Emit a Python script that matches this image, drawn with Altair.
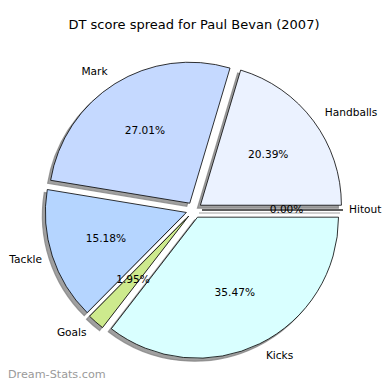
import altair as alt
import pandas as pd

labels = ["Hitout", "Handballs", "Mark", "Tackle", "Goals", "Kicks"]
values = [0.00, 20.39, 27.01, 15.18, 1.95, 35.47]
colors = ["#e0e8ff", "#ebf2ff", "#c5d9ff", "#b5d5ff", "#cdea8d", "#d9ffff"]

title_text = "DT score spread for Paul Bevan (2007)"
watermark = "Dream-Stats.com"

df = pd.DataFrame({"label": labels, "value": values, "idx": list(range(len(labels)))})

W = H = 374
CX, CY, R, D = 186, 202, 141, 8
SH = 3  # shadow offset
FS = 10.6

base = alt.Chart(df).transform_window(
    cum="sum(value)", sort=[alt.SortField("idx")], frame=[None, 0]
).transform_joinaggregate(
    total="sum(value)"
).transform_calculate(
    a2="2*PI*datum.cum/datum.total",
    a1="2*PI*(datum.cum-datum.value)/datum.total",
).transform_calculate(
    m="(datum.a1+datum.a2)/2",
    theta="2.5*PI-datum.a2",
    theta2="2.5*PI-datum.a1",
).transform_calculate(
    cx=f"{CX}+{D}*cos(datum.m)",
    cy=f"{CY}-{D}*sin(datum.m)",
    sx=f"{CX}+{D}*cos(datum.m)-{SH}",
    sy=f"{CY}-{D}*sin(datum.m)+{SH}",
    lx=f"clamp({CX}+({D}+1.1*{R})*cos(datum.m), 34, {W}-33)",
    ly=f"{CY}-({D}+1.1*{R})*sin(datum.m)",
    px=f"{CX}+({D}+0.6*{R})*cos(datum.m)",
    py=f"{CY}-({D}+0.6*{R})*sin(datum.m)",
    pct="format(datum.value/datum.total, '.2%')",
)

shadow = base.mark_arc(radius=R, fill="#808080", fillOpacity=0.75, stroke="#808080", strokeWidth=1.2, strokeOpacity=0.75).encode(
    x=alt.X("sx:Q", scale=None, axis=None),
    y=alt.Y("sy:Q", scale=None, axis=None),
    theta=alt.Theta("theta:Q", scale=None),
    theta2="theta2:Q",
)

pie = base.mark_arc(radius=R, stroke="black", strokeWidth=0.8).encode(
    x=alt.X("cx:Q", scale=None, axis=None),
    y=alt.Y("cy:Q", scale=None, axis=None),
    theta=alt.Theta("theta:Q", scale=None),
    theta2="theta2:Q",
    color=alt.Color("label:N", scale=alt.Scale(domain=labels, range=colors), legend=None),
)

txt_props = dict(font="DejaVu Sans", fontSize=FS, color="black", baseline="middle")

lab_left = base.transform_filter("cos(datum.m) >= 0").mark_text(align="left", **txt_props).encode(
    x=alt.X("lx:Q", scale=None), y=alt.Y("ly:Q", scale=None), text="label:N"
)
lab_right = base.transform_filter("cos(datum.m) < 0").mark_text(align="right", **txt_props).encode(
    x=alt.X("lx:Q", scale=None), y=alt.Y("ly:Q", scale=None), text="label:N"
)
pct = base.mark_text(align="center", **txt_props).encode(
    x=alt.X("px:Q", scale=None), y=alt.Y("py:Q", scale=None), text="pct:N"
)

title = alt.Chart(pd.DataFrame({"t": [title_text]})).mark_text(
    font="DejaVu Sans", fontSize=13, color="black", align="center", baseline="middle"
).encode(x=alt.value(186), y=alt.value(17), text="t:N")

wm = alt.Chart(pd.DataFrame({"t": [watermark]})).mark_text(
    font="DejaVu Sans", fontSize=11.2, color="#9a9a9a", align="left", baseline="middle"
).encode(x=alt.value(0), y=alt.value(367), text="t:N")

chart = alt.layer(shadow, pie, pct, lab_left, lab_right, title, wm).properties(
    width=W, height=H, padding=0, autosize="none", background="white"
).configure_view(stroke=None)

chart.save("out.html", embed_options={"renderer": "svg", "actions": False})
